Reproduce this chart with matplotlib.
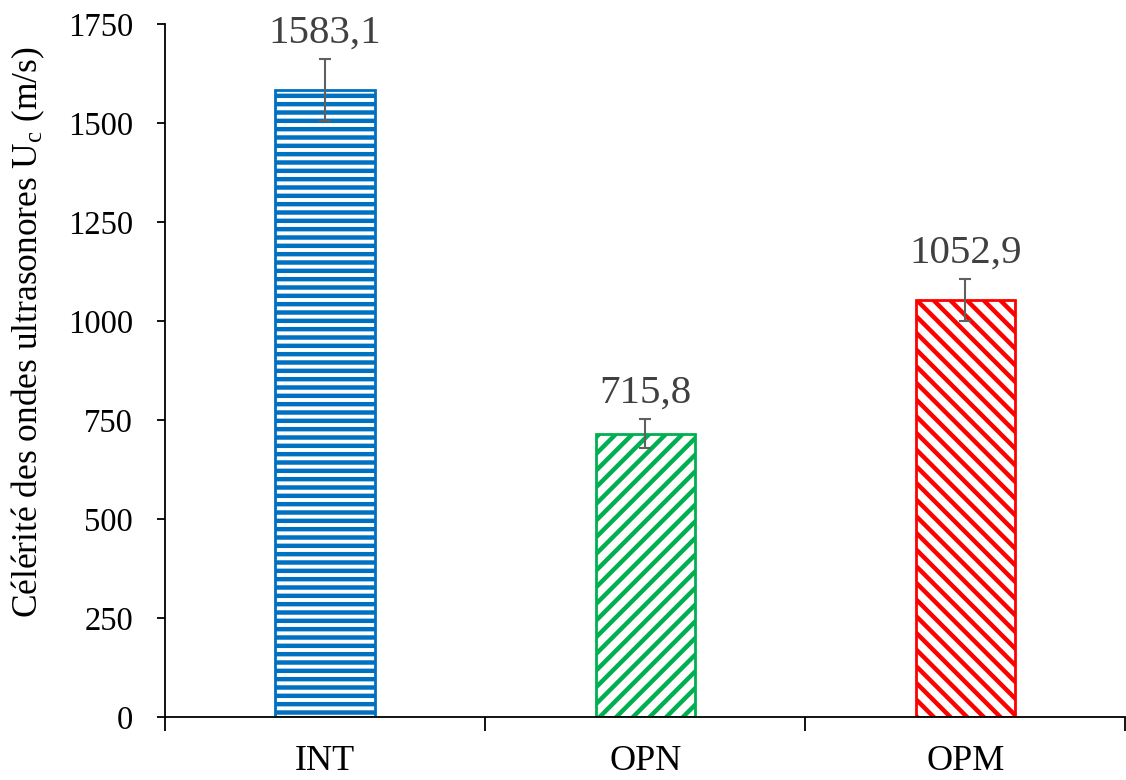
import numpy as np
import matplotlib
matplotlib.use("Agg")
from matplotlib import pyplot as plt
from matplotlib.ticker import FixedLocator

plt.rcParams['font.family'] = ['Liberation Serif', 'DejaVu Serif']
plt.rcParams['mathtext.fontset'] = 'custom'
plt.rcParams['mathtext.rm'] = 'Liberation Serif'
plt.rcParams['mathtext.it'] = 'Liberation Serif:italic'
plt.rcParams['hatch.linewidth'] = 3.2

# données
categories = ["INT", "OPN", "OPM"]
valeurs = [1583.1, 715.8, 1052.9]
erreurs = [78, 36, 53]
couleurs = ["#0070C0", "#00B050", "#FF0000"]
hachures = ["--", "//", "\\\\"]
yticks = [0, 250, 500, 750, 1000, 1250, 1500, 1750]

fig = plt.figure(figsize=(11.26, 7.8), dpi=100)
ax = fig.add_axes([0.1465, 0.081, 0.853, 0.888])

x = np.arange(len(categories))
for i in range(len(categories)):
    ax.bar(x[i], valeurs[i], width=0.31, color="white", edgecolor=couleurs[i],
           hatch=hachures[i], linewidth=2, zorder=2)
ax.errorbar(x, valeurs, yerr=erreurs, fmt="none", ecolor="#606060",
            elinewidth=1.5, capsize=4.5, capthick=1.5, zorder=3)

for i in range(len(categories)):
    txt = ("%.1f" % valeurs[i]).replace(".", ",")
    ax.annotate(txt, (x[i], valeurs[i] + erreurs[i]), xytext=(0, 12),
                textcoords="offset points", ha="center", va="baseline",
                fontsize=29.5, color="#404040")

ax.set_xlim(-0.5, 2.5)
ax.set_ylim(0, 1750)
ax.set_yticks(yticks)
ax.tick_params(axis='y', labelsize=23.5, direction='out', length=6, width=1.3, pad=17)
ax.set_xticks(x)
ax.set_xticklabels(categories)
ax.tick_params(axis='x', which='major', labelsize=26, length=0, pad=20)
ax.xaxis.set_minor_locator(FixedLocator([-0.5, 0.5, 1.5, 2.5]))
ax.tick_params(axis='x', which='minor', direction='out', length=10, width=1.3)
for s in ['top', 'right']:
    ax.spines[s].set_visible(False)
for s in ['left', 'bottom']:
    ax.spines[s].set_linewidth(1.3)
ax.set_ylabel("Célérité des ondes ultrasonores $\\mathregular{U_c}$ (m/s)", fontsize=25.5)
ax.yaxis.set_label_coords(-0.123, 0.555)

fig.savefig("out.png", dpi=100)
